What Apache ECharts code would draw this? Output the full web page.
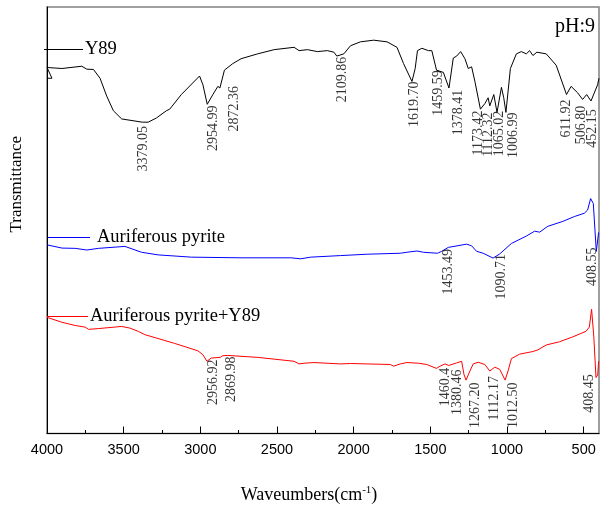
<!DOCTYPE html>
<html>
<head>
<meta charset="utf-8">
<script src="https://cdn.jsdelivr.net/npm/echarts@6/dist/echarts.min.js"></script>
<style>html,body{margin:0;padding:0;background:#fff}#c{width:601px;height:509px}</style>
</head>
<body>
<div id="c"></div>
<script>
// ---- data (wavenumber cm^-1, transmittance a.u.) ----
const majorTicks = [4000, 3500, 3000, 2500, 2000, 1500, 1000, 500];
const minorTicks = [3750, 3250, 2750, 2250, 1750, 1250, 750];

const y89 = [
  [4000,364],[3967.6,364],[4000,375],[3902.7,374],[3772.9,376.3],[3740.4,373.3],[3696.9,373],
  [3654.1,364],[3610.6,345.7],[3567.1,330.7],[3513.1,322.3],[3379.05,319],[3340,319],
  [3286.1,323.3],[3221.2,330.7],[3199.8,332.3],[3123.9,347.3],[3005.1,366.3],[2983.1,357.3],
  [2954.99,337.3],[2918.2,347.3],[2885.7,355.7],[2872.36,354],[2842.9,372.3],[2788.4,379],
  [2734.5,384],[2626.1,389],[2518.4,393.3],[2388.6,395.7],[2356.1,392.3],[2301.6,393.3],
  [2236.7,391.3],[2171.8,392.3],[2128.9,390.7],[2109.86,386.7],[2064.1,389],[2020.6,397.3],
  [1955.7,401.3],[1869.4,403],[1782.4,401.3],[1717.5,395.7],[1674.7,379],[1619.7,360.7],
  [1598.8,374],[1583.9,392.3],[1555.3,394.7],[1512.5,392.3],[1490.4,392.3],[1459.59,372.3],
  [1447.6,372.3],[1415.1,370],[1378.41,354],[1350.2,384.7],[1328.2,386.7],[1302.2,391.3],
  [1274.3,384],[1252.9,374],[1230.8,375.7],[1209.4,360.7],[1173.42,332.3],[1144.5,338],
  [1123.1,344],[1112.32,335.7],[1086.1,347.3],[1065.02,329],[1036.2,354.7],[1021.2,344],
  [1006.99,329],[977.8,374],[938.8,389],[906.4,391.3],[873.9,389],[852.5,392.3],[831.1,387.3],
  [805.1,390.7],[744.1,389],[679.2,377.3],[611.92,347.3],[581.9,355.7],[539.1,349],
  [506.8,342.3],[480.6,347.3],[452.15,340.7],[409.2,357.3],[400,364]
];

const pyrite = [
  [4000,193.3],[3902.7,190],[3816.3,189.7],[3740.4,188],[3664.5,189.7],[3491.9,191.7],
  [3383.5,185.7],[3275.1,183],[3059,180.7],[2734.5,180],[2410,180],[2345.1,179],[2280.2,180.7],
  [2085.5,182.3],[1912.2,183.7],[1696.1,184.7],[1652.6,185.7],[1587.7,187],[1544.9,185.7],
  [1453.49,184.7],[1425.5,186.7],[1382.7,190.7],[1263.3,194],[1230.8,192.3],[1198.4,186.7],
  [1155.5,184.7],[1090.71,179.7],[1047.2,184],[971.3,194.7],[873.9,202.3],[820,207.3],
  [787.6,206.3],[733.7,212.3],[636.4,217.3],[560.4,222.3],[495.6,225.7],[474.1,229],
  [454.6,240.7],[437.1,235.7],[417.6,186.5],[408.55,186],[402.6,206]
];

const pyriteY89 = [
  [4000,119],[3902.7,114],[3816.3,110.7],[3751.4,109],[3729.4,106.7],[3664.5,107.5],
  [3513.3,109.7],[3459.4,108],[3404.9,104.7],[3362.1,101.3],[3167.4,92.3],[3015.5,84.7],
  [2983.1,80.7],[2956.92,74],[2929.2,77.3],[2869.98,78],[2853.2,79.7],[2820.8,80],[2626.1,78],
  [2388.6,74],[2356.1,71.3],[2323.7,72],[2258.8,72.7],[2085.5,71.3],[2020.6,71.7],[1761,70.7],
  [1739.6,69],[1696.1,71.3],[1652.6,72.7],[1577.3,72],[1522.8,70.7],[1460.4,66.7],[1436.5,69],
  [1404.1,71.3],[1380.46,69.7],[1328.2,72.3],[1295.8,74],[1280.8,60.7],[1267.2,54.7],
  [1241.9,64],[1220.4,71.3],[1188,73],[1144.5,70.7],[1112.17,64],[1079.6,68],[1047.2,65.7],
  [1012.5,54.7],[993.2,64],[971.3,76.7],[917.4,81.3],[831.1,84],[798.6,85.7],[744.1,90.7],
  [657.8,94],[571.5,99],[484.5,104.7],[463.1,109],[448.2,127.3],[433.8,99],[419.6,57.3],
  [408.45,60],[402.6,74]
];

// peak annotations: [label anchor wavenumber, label anchor transmittance, text]
const peakLabels = [
  [3372.4,315,'3379.05'],[2918.2,336,'2954.99'],[2777.9,356,'2872.36'],[2074.5,386,'2109.86'],
  [1602.1,360.7,'1619.70'],[1447.6,372.3,'1459.59'],[1317.8,352.3,'1378.41'],[1189.9,331,'1173.42'],
  [1123.1,329,'1112.32'],[1047.2,330.7,'1065.02'],[960.9,329,'1006.99'],[614.4,342.3,'611.92'],
  [516.9,335.7,'506.80'],[441.6,332.3,'452.15'],
  [1382.7,189,'1453.49'],[1036.2,184,'1090.71'],[441.6,190.7,'408.55'],
  [2918.2,75.7,'2956.92'],[2799.4,79,'2869.98'],[1404.1,67.3,'1460.4'],[1321.7,65.7,'1380.46'],
  [1209.4,52.3,'1267.20'],[1079.6,59,'1112.17'],[960.9,52.3,'1012.50'],[463.1,60.7,'408.45']
];

const seriesNames = ['Y89', 'Auriferous pyrite', 'Auriferous pyrite+Y89'];
const seriesColors = ['#000000', '#0000ff', '#ff0000'];

// ---- chart ----
const serif = 'Liberation Serif, Times New Roman, serif';
const chart = echarts.init(document.getElementById('c'), null, {renderer: 'canvas'});

function lineSeries(i, data) {
  return {
    name: seriesNames[i], type: 'line', data: data, showSymbol: false, symbol: 'none',
    lineStyle: {color: seriesColors[i], width: 1}, itemStyle: {color: seriesColors[i]},
    animation: false, z: 3
  };
}
function legendFor(i, left, top, width, textGap) {
  return {
    data: [seriesNames[i]], left: left, top: top, padding: 0, itemWidth: width, itemHeight: 1.2,
    icon: 'rect',
    textStyle: {fontFamily: serif, fontSize: 18.5, color: '#000', padding: [0, 0, 0, textGap]},
    selectedMode: false
  };
}

chart.setOption({
  animation: false,
  grid: {left: 45, right: 2, top: 7, bottom: 65, show: true, borderColor: '#808080', borderWidth: 1.5},
  title: {text: 'pH:9', right: 6, top: 17, padding: 0,
    textStyle: {fontFamily: serif, fontSize: 20, fontWeight: 'normal', color: '#000'}},
  legend: [legendFor(0, 44, 40, 39, -3), legendFor(1, 48, 228, 42, 2), legendFor(2, 47, 307, 41, -3)],
  xAxis: [{
    type: 'value', inverse: true, min: 400, max: 4000,
    name: 'Waveumbers(cm{sup|-1})', nameLocation: 'middle', nameGap: 51,
    nameTextStyle: {fontFamily: serif, fontSize: 18, color: '#000', padding: [0, 28, 0, 0],
      rich: {sup: {fontFamily: serif, fontSize: 11, padding: [0, 0, 10, 0]}}},
    axisLine: {lineStyle: {color: '#000', width: 1}},
    axisTick: {inside: true, length: 7, customValues: majorTicks, lineStyle: {color: '#000'}},
    axisLabel: {customValues: majorTicks, margin: 9, fontFamily: 'Liberation Sans, Arial, sans-serif',
      fontSize: 14.5, color: '#000', formatter: v => String(v)},
    splitLine: {show: false}
  }, {
    type: 'value', inverse: true, min: 400, max: 4000, position: 'bottom',
    axisLine: {show: false},
    axisTick: {inside: true, length: 3.5, customValues: minorTicks, lineStyle: {color: '#000'}},
    axisLabel: {show: false}, splitLine: {show: false}
  }],
  yAxis: {
    type: 'value', min: 0, max: 437,
    name: 'Transmittance', nameLocation: 'middle', nameGap: 22, nameRotate: 90,
    nameTextStyle: {fontFamily: serif, fontSize: 17, color: '#000', padding: [0, 0, 0, 72]},
    axisLine: {show: true, lineStyle: {color: '#000', width: 1}},
    axisTick: {show: false}, axisLabel: {show: false}, splitLine: {show: false}
  },
  series: [
    lineSeries(0, y89), lineSeries(1, pyrite), lineSeries(2, pyriteY89),
    {
      type: 'scatter', name: 'peaks', symbolSize: 0, silent: true, z: 4,
      data: peakLabels.map(p => ({value: [p[0], p[1]], label: {formatter: p[2]}})),
      label: {show: true, position: [0, 0], rotate: 90, align: 'right', verticalAlign: 'middle',
        fontFamily: serif, fontSize: 14, color: '#000'}
    }
  ]
});
</script>
</body>
</html>
